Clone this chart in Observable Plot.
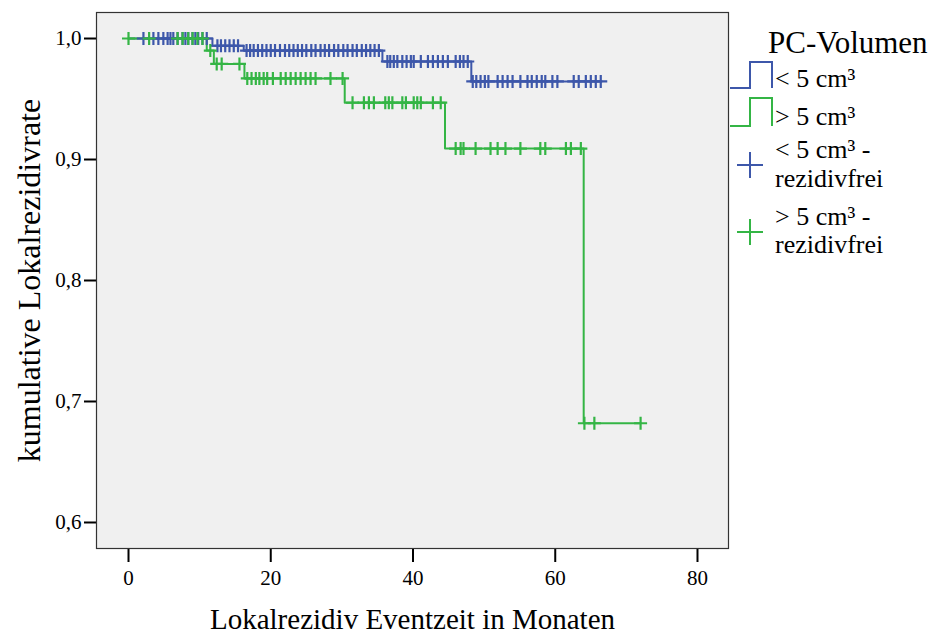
<!DOCTYPE html>
<html><head><meta charset="utf-8">
<script src="https://cdn.jsdelivr.net/npm/d3@7"></script>
<script src="https://cdn.jsdelivr.net/npm/@observablehq/plot@0.6"></script>
<style>
body{margin:0;background:#fff;}
#wrap{position:relative;width:935px;height:636px;font-family:"Liberation Serif","Times New Roman",serif;}
#wrap svg.leg{position:absolute;left:0;top:0;}
</style></head><body><div id="wrap"></div>
<script>
const groups = ["< 5 cm³", "> 5 cm³"];
const colors = ["#3d57aa", "#34b545"];
const blueStepTimes = [0, 11.8, 16.2, 35.7, 48.2];
const blueStepSurv = [1.0, 0.994, 0.990, 0.981, 0.9645];
const greenStepTimes = [0, 11.0, 12.0, 16.3, 30.4, 44.5, 64.0];
const greenStepSurv = [1.0, 0.990, 0.979, 0.967, 0.947, 0.909, 0.682];
const blueCensored = [2.1, 3.5, 4.2, 4.9, 5.5, 5.9, 6.3, 6.9, 7.6, 8.0, 8.4, 9.0, 9.4, 9.8, 10.4, 11.0,
  12.5, 13.0, 13.6, 14.2, 14.8, 15.4,
  16.6, 17.1, 17.6, 18.2, 18.8, 19.4, 20.0, 20.6, 21.3, 22.0, 22.6, 23.2, 23.8, 24.4, 25.0, 25.7, 26.3, 27.0, 27.6, 28.2, 28.9, 29.5, 30.2, 30.8, 31.5, 32.1, 32.8, 33.4, 34.0, 34.6, 35.2,
  36.4, 36.8, 37.3, 37.8, 38.5, 39.1, 39.7, 40.1, 41.1, 42.1, 42.8, 43.5, 44.2, 44.9, 46.0, 46.6, 47.1, 47.7,
  48.4, 48.9, 49.5, 50.1, 50.6, 51.9, 52.6, 53.3, 54.0, 55.1, 56.1, 56.7, 57.4, 58.1, 58.6, 59.6, 60.3, 62.6, 63.3, 64.3, 65.0, 65.7, 66.4];
const greenCensored = [0, 2.9, 6.9, 7.6, 8.4, 9.0, 9.7, 10.4, 11.5, 12.4, 13.1, 15.6,
  16.7, 17.3, 17.9, 18.4, 19.0, 19.5, 20.3, 21.4, 22.1, 22.8, 23.5, 24.2, 24.9, 25.6, 26.3, 28.4, 30.1,
  31.5, 33.1, 33.8, 34.5, 36.1, 36.6, 37.1, 38.5, 39.0, 40.1, 40.6, 41.1, 42.8, 43.9,
  46.0, 46.7, 47.1, 48.8, 50.9, 51.9, 53.0, 55.1, 57.9, 58.6, 61.5, 62.2, 63.6,
  64.1, 65.5, 72.0];
const xTicks = [0, 20, 40, 60, 80];
const yTicks = [0.6, 0.7, 0.8, 0.9, 1.0];
const xLabel = "Lokalrezidiv Eventzeit in Monaten";
const yLabel = "kumulative Lokalrezidivrate";
const legendTitle = "PC-Volumen";
const legendCensLine1 = ["< 5 cm³ -", "> 5 cm³ -"];
const legendCensLine2 = "rezidivfrei";

function survAt(times, surv, t) {
  let s = surv[0];
  for (let i = 0; i < times.length; i++) if (times[i] <= t) s = surv[i];
  return s;
}
function stepLine(times, surv, cens, g) {
  const pts = times.map((t, i) => ({t, s: surv[i], g}));
  const end = d3.max(cens);
  pts.push({t: end, s: survAt(times, surv, end), g});
  return pts;
}
const lineData = [
  ...stepLine(blueStepTimes, blueStepSurv, blueCensored, groups[0]),
  ...stepLine(greenStepTimes, greenStepSurv, greenCensored, groups[1])
];
const censData = [
  ...blueCensored.map(t => ({t, s: survAt(blueStepTimes, blueStepSurv, t), g: groups[0]})),
  ...greenCensored.map(t => ({t, s: survAt(greenStepTimes, greenStepSurv, t), g: groups[1]}))
];
const cross = {
  draw(ctx, size) {
    const r = Math.sqrt(size / Math.PI);
    ctx.moveTo(-r, 0); ctx.lineTo(r, 0);
    ctx.moveTo(0, -r); ctx.lineTo(0, r);
  }
};
const fmt = d => d.toFixed(1).replace(".", ",");
const font = '"Liberation Serif","Times New Roman",serif';

const plot = Plot.plot({
  width: 935, height: 636,
  marginLeft: 96, marginRight: 207, marginTop: 12, marginBottom: 88,
  style: {fontFamily: font, background: "transparent", color: "#000", overflow: "visible"},
  x: {domain: [-4.5, 84.36]},
  y: {domain: [0.5785, 1.0215]},
  color: {domain: groups, range: colors},
  marks: [
    Plot.frame({fill: "#f0f0f0", stroke: null}),
    Plot.axisX({ticks: xTicks, tickSize: 14, tickPadding: 8, fontSize: 21, label: null, tickFormat: d => String(d), strokeWidth: 2}),
    Plot.axisY({ticks: yTicks, tickSize: 12, tickPadding: 3, fontSize: 21, label: null, tickFormat: fmt, strokeWidth: 2}),
    Plot.line(lineData, {x: "t", y: "s", z: "g", stroke: "g", curve: "step-after", strokeWidth: 2}),
    Plot.dot(censData, {x: "t", y: "s", stroke: "g", fill: "none", symbol: cross, r: 6.5, strokeWidth: 2.2}),
    Plot.frame({stroke: "#333", strokeWidth: 1.2}),
    Plot.text([xLabel], {frameAnchor: "bottom", dy: 80, fontSize: 29, text: d => d}),
    Plot.text([yLabel], {frameAnchor: "left", textAnchor: "middle", dx: -67, rotate: -90, fontSize: 32, text: d => d})
  ]
});
const wrap = document.getElementById("wrap");
wrap.appendChild(plot);

// legend
const leg = d3.select(wrap).append("svg").attr("class", "leg")
  .attr("width", 935).attr("height", 636)
  .style("font-family", font);
leg.append("text").attr("x", 768).attr("y", 53).attr("font-size", 31).text(legendTitle);
const swY = [[88, 62], [126, 98]];
groups.forEach((g, i) => {
  const [b, tp] = swY[i];
  leg.append("path").attr("d", `M730,${b}H750V${tp}H772V${b}`)
    .attr("fill", "none").attr("stroke", colors[i]).attr("stroke-width", 2);
  leg.append("text").attr("x", 775).attr("y", b - 1).attr("font-size", 26).text(g);
});
const plusY = [165, 232];
const textY = [[158, 187], [225, 253]];
groups.forEach((g, i) => {
  const cy = plusY[i];
  leg.append("path").attr("d", `M737,${cy}H763M750,${cy - 13}V${cy + 13}`)
    .attr("fill", "none").attr("stroke", colors[i]).attr("stroke-width", 2);
  leg.append("text").attr("x", 775).attr("y", textY[i][0]).attr("font-size", 26).text(legendCensLine1[i]);
  leg.append("text").attr("x", 775).attr("y", textY[i][1]).attr("font-size", 26).text(legendCensLine2);
});
</script></body></html>
